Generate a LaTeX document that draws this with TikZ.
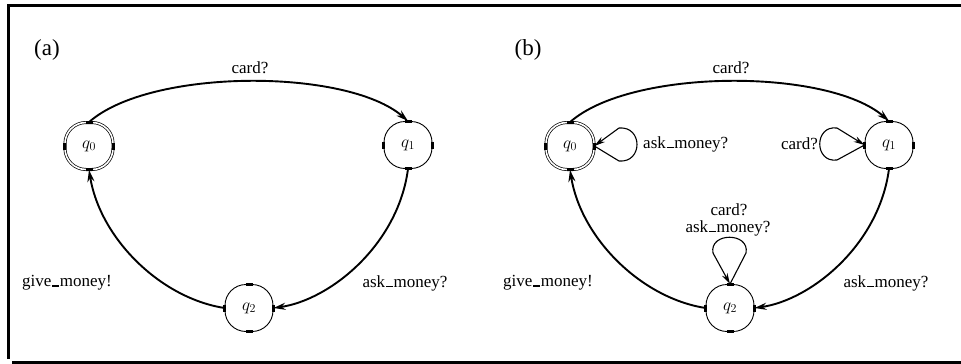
\documentclass[tikz,border=0pt]{standalone}
\usepackage{fontspec}
\setmainfont{Liberation Serif}
\usetikzlibrary{arrows.meta,calc}
\newcommand\ubar{\kern0.04em\rule[-0.3pt]{0.42em}{1.8pt}\kern0.04em}
\begin{document}
\begin{tikzpicture}[x=1pt,y=-1pt,
  state/.style={draw,line width=0.9pt,rounded corners=21pt,minimum width=48pt,minimum height=47pt,inner sep=0pt,font=\fontsize{17}{17}\selectfont},
  init/.style={state,double,double distance=1.6pt,line width=0.7pt},
  edge/.style={line width=1.9pt,-{Stealth[length=12pt,width=7pt]}},
  loopedge/.style={line width=1.1pt,-{Stealth[length=11pt,width=6pt]}},
  lbl/.style={font=\fontsize{17}{19}\selectfont,inner sep=0pt},
  tag/.style={font=\fontsize{23}{25}\selectfont,inner sep=0pt},
  port/.style={line width=3pt}
]
\useasboundingbox (0,0) rectangle (961,364);
\fill[white] (0,0) rectangle (961,364);
% frame
\coordinate (fa) at (961,5);
\coordinate (fb) at (8.5,5);
\coordinate (fc) at (8.5,359);
\coordinate (fd) at (12,362.5);
\coordinate (fe) at (961,362.5);
\draw[line width=3pt] (fa) -- (fb) -- (fc);
\draw[line width=3pt] (fd) -- (fe);

\foreach \dx/\tg in {0/a,481/b}{
  \begin{scope}[xshift=\dx pt]
  \node[tag] (tag\tg) at (47,50) {(\tg)};
  \node[init] (q0\tg) at (89,146) {$q_0$};
  \node[state] (q1\tg) at (408,145) {$q_1$};
  \node[state] (q2\tg) at (249,308) {$q_2$};
  \foreach \n in {q0\tg,q1\tg,q2\tg}{
    \draw[port] ($(\n.north)+(-3.5,0)$) -- ($(\n.north)+(3.5,0)$);
    \draw[port] ($(\n.south)+(-3.5,0)$) -- ($(\n.south)+(3.5,0)$);
    \draw[port] ($(\n.east)+(0,-3.5)$) -- ($(\n.east)+(0,3.5)$);
    \draw[port] ($(\n.west)+(0,-3.5)$) -- ($(\n.west)+(0,3.5)$);
  }
  \draw[edge] (q0\tg.north) .. controls (150,68) and (347,68) .. (q1\tg.north);
  \draw[edge] (q1\tg.south) .. controls (398,245) and (330,300) .. (q2\tg.east);
  \draw[edge] (q2\tg.west) .. controls (160,298) and (100,238) .. (q0\tg.south);
  \node[lbl] (c\tg) at (250,68) {card?};
  \node[lbl] (am\tg) at (405,283) {ask\ubar money?};
  \node[lbl] (gm\tg) at (67,283) {give\ubar money!};
  \end{scope}
}
% self loops in (b)
\coordinate (l0a) at (619,161);
\coordinate (l0b) at (619,128);
\draw[line width=1.1pt] (q0b.east) -- (l0a) .. controls (643,163) and (643,126) .. (l0b);
\draw[loopedge] (l0b) -- (q0b.east);
\node[lbl,anchor=west] (lq0) at (643,144) {ask\ubar money?};

\coordinate (l1a) at (837,128);
\coordinate (l1b) at (837,160);
\draw[line width=1.1pt] (q1b.west) -- (l1b) .. controls (814,163) and (814,125) .. (l1a);
\draw[loopedge] (l1a) -- (q1b.west);
\node[lbl,anchor=east] (lq1) at (818,144) {card?};

\coordinate (l2a) at (713,253);
\coordinate (l2b) at (746,253);
\draw[line width=1.1pt] (q2b.north) -- (l2b) .. controls (750,232) and (709,232) .. (l2a);
\draw[loopedge] (l2a) -- (q2b.north);
\node[lbl] (lq2a) at (729,210) {card?};
\node[lbl] (lq2b) at (728,228) {ask\ubar money?};
\end{tikzpicture}
\end{document}
